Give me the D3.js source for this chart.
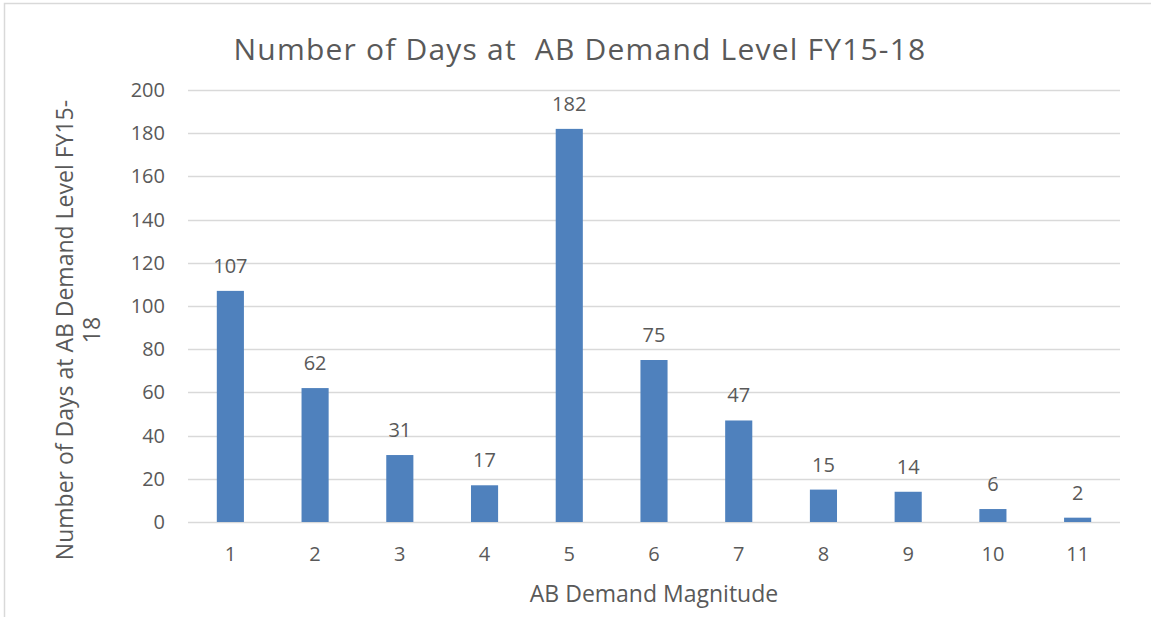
<!DOCTYPE html>
<html>
<head>
<meta charset="utf-8">
<script src="https://cdn.jsdelivr.net/npm/d3@7"></script>
<style>
  body { margin: 0; background: #fff; }
  text { font-family: "Open Sans", "Noto Sans", sans-serif; fill: #595959; }
</style>
</head>
<body>
<svg id="canvas" width="1151" height="617"></svg>
<script>
const categories = ['1', '2', '3', '4', '5', '6', '7', '8', '9', '10', '11']
const days = [107, 62, 31, 17, 182, 75, 47, 15, 14, 6, 2]
const yTicks = [0, 20, 40, 60, 80, 100, 120, 140, 160, 180, 200]

const width = 1151
const height = 617
const margin = { left: 188, right: 31, top: 90, bottom: 95 }

let canvas = d3.select('#canvas')

// chart frame (only top/left edges show in the picture)
canvas.append('rect')
    .attr('x', 4.5)
    .attr('y', 3.5)
    .attr('width', width)
    .attr('height', height)
    .attr('fill', 'none')
    .attr('stroke', '#d9d9d9')
    .attr('stroke-width', 1.5)

let xScale = d3.scaleBand()
    .domain(categories)
    .range([margin.left, width - margin.right])
    .paddingInner(0.68)
    .paddingOuter(0.34)

let yScale = d3.scaleLinear()
    .domain([0, 200])
    .range([height - margin.bottom, margin.top])

// gridlines
canvas.append('g')
    .selectAll('line')
    .data(yTicks)
    .enter()
    .append('line')
    .attr('x1', margin.left)
    .attr('x2', width - margin.right)
    .attr('y1', d => Math.round(yScale(d)) + 0.5)
    .attr('y2', d => Math.round(yScale(d)) + 0.5)
    .attr('stroke', '#d9d9d9')
    .attr('stroke-width', 1.3)

// y axis labels
let yAxis = d3.axisLeft(yScale).tickValues(yTicks).tickSize(0).tickPadding(23)
canvas.append('g')
    .attr('transform', `translate(${margin.left}, 0)`)
    .call(yAxis)
    .call(g => g.select('.domain').remove())
    .selectAll('text')
    .style('font-size', '20px')
    .style('font-family', '"Open Sans", sans-serif')
    .attr('fill', '#595959')

// x axis labels
let xAxis = d3.axisBottom(xScale).tickSize(0).tickPadding(25)
canvas.append('g')
    .attr('transform', `translate(0, ${height - margin.bottom})`)
    .call(xAxis)
    .call(g => g.select('.domain').remove())
    .selectAll('text')
    .style('font-size', '20px')
    .style('font-family', '"Open Sans", sans-serif')
    .attr('fill', '#595959')

// bars
canvas.append('g')
    .selectAll('rect')
    .data(days)
    .enter()
    .append('rect')
    .attr('x', (d, i) => xScale(categories[i]))
    .attr('y', d => yScale(d))
    .attr('width', xScale.bandwidth())
    .attr('height', d => yScale(0) - yScale(d))
    .attr('fill', '#4f81bd')

// data labels
canvas.append('g')
    .selectAll('text')
    .data(days)
    .enter()
    .append('text')
    .attr('x', (d, i) => xScale(categories[i]) + xScale.bandwidth() / 2)
    .attr('y', d => yScale(d) - 18)
    .attr('text-anchor', 'middle')
    .style('font-size', '20px')
    .text(d => d)

// title
canvas.append('text')
    .attr('x', 580)
    .attr('y', 60)
    .attr('text-anchor', 'middle')
    .style('font-size', '30px')
    .style('letter-spacing', '1.2px')
    .style('white-space', 'pre')
    .attr('xml:space', 'preserve')
    .text('Number of Days at  AB Demand Level FY15-18')

// x axis title
canvas.append('text')
    .attr('x', 654)
    .attr('y', 602)
    .attr('text-anchor', 'middle')
    .style('font-size', '23px')
    .text('AB Demand Magnitude')

// y axis title (two lines)
let yTitle = canvas.append('text')
    .attr('transform', 'translate(73, 330) rotate(-90)')
    .attr('text-anchor', 'middle')
    .style('font-size', '23px')
yTitle.append('tspan').attr('x', 0).attr('y', 0).text('Number of Days at AB Demand Level FY15-')
yTitle.append('tspan').attr('x', 0).attr('y', 27).text('18')
</script>
</body>
</html>
